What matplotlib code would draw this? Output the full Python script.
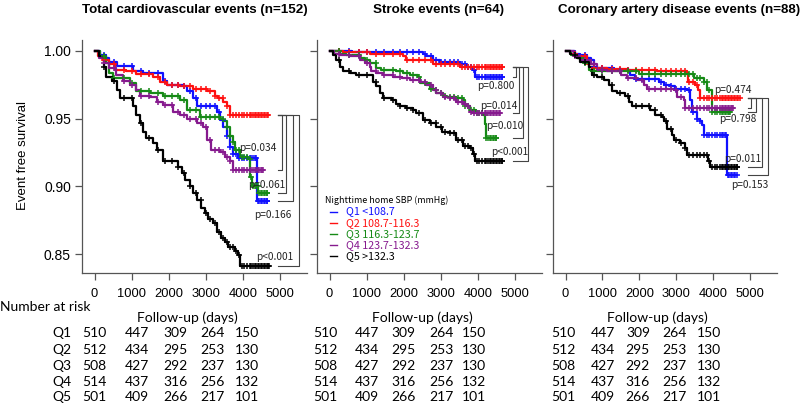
import numpy as np
import matplotlib
matplotlib.use("Agg")
import matplotlib.pyplot as plt
from matplotlib.lines import Line2D
from matplotlib.transforms import blended_transform_factory

# ---------------- data ----------------
GROUPS = ["Q1", "Q2", "Q3", "Q4", "Q5"]
GROUP_RANGES = ["<108.7", "108.7-116.3", "116.3-123.7", "123.7-132.3", ">132.3"]
LEGEND_TITLE = "Nighttime home SBP (mmHg)"
PANEL_TITLES = ["Total cardiovascular events (n=152)",
                "Stroke events (n=64)",
                "Coronary artery disease events (n=88)"]
X_TICKS = [0, 1000, 2000, 3000, 4000, 5000]
Y_TICKS = [0.85, 0.90, 0.95, 1.00]
Y_TICK_LABELS = ["0.85", "0.90", "0.95", "1.00"]

# Panel 1: total cardiovascular events (step times in days, survival after step)
CV_T = {
    "Q1": [0, 150, 300, 400, 600, 1040, 1300, 1850, 1940, 2390, 2480, 2660, 2750, 3290, 3380, 3470, 3560, 3650, 3740, 3880, 4370],
    "Q2": [0, 100, 230, 400, 540, 860, 1130, 1570, 1760, 1940, 2300, 2650, 3020, 3240, 3330, 3470, 3560, 3650],
    "Q3": [0, 150, 320, 400, 500, 950, 1130, 1490, 1850, 2300, 2480, 2840, 3380, 3470, 3560, 3650, 3740, 3790, 3920, 4150, 4190, 4240, 4410],
    "Q4": [0, 130, 250, 400, 590, 770, 950, 1130, 1220, 1490, 1670, 1850, 2120, 2300, 2480, 2750, 2930, 3020, 3150, 3380, 3510, 3650, 3740],
    "Q5": [0, 120, 250, 320, 480, 600, 680, 1030, 1120, 1220, 1300, 1400, 1570, 1670, 1840, 2250, 2350, 2430, 2570, 2650, 2750, 2880, 2970, 3050, 3190, 3290, 3420, 3510, 3600, 3780, 3870, 3920],
}
CV_S = {
    "Q1": [1.0, 0.997, 0.995, 0.992, 0.989, 0.985, 0.984, 0.978, 0.975, 0.974, 0.970, 0.965, 0.959, 0.955, 0.949, 0.944, 0.937, 0.929, 0.924, 0.921, 0.889],
    "Q2": [1.0, 0.996, 0.993, 0.990, 0.986, 0.985, 0.983, 0.981, 0.977, 0.975, 0.974, 0.972, 0.970, 0.967, 0.965, 0.962, 0.959, 0.953],
    "Q3": [1.0, 0.996, 0.991, 0.984, 0.980, 0.976, 0.970, 0.969, 0.967, 0.964, 0.956, 0.951, 0.950, 0.948, 0.944, 0.937, 0.933, 0.927, 0.922, 0.920, 0.907, 0.900, 0.895],
    "Q4": [1.0, 0.995, 0.991, 0.987, 0.982, 0.978, 0.975, 0.971, 0.967, 0.966, 0.962, 0.960, 0.955, 0.953, 0.950, 0.947, 0.944, 0.934, 0.927, 0.925, 0.922, 0.919, 0.912],
    "Q5": [1.0, 0.996, 0.988, 0.981, 0.978, 0.971, 0.965, 0.959, 0.953, 0.947, 0.940, 0.936, 0.932, 0.927, 0.919, 0.914, 0.910, 0.905, 0.900, 0.895, 0.890, 0.884, 0.880, 0.876, 0.873, 0.866, 0.862, 0.859, 0.855, 0.852, 0.849, 0.841],
}
CV_END = {"Q1": 4650, "Q2": 4680, "Q3": 4650, "Q4": 4550, "Q5": 4700}

# Panel 2: stroke events
ST_T = {
    "Q1": [0, 600, 2520, 2610, 2790, 2970, 3510, 3690, 3870, 3920],
    "Q2": [0, 350, 1080, 1980, 2070, 2790, 3510],
    "Q3": [0, 270, 450, 810, 950, 1080, 1260, 1400, 1800, 1980, 2160, 2390, 2430, 2700, 2840, 2880, 3060, 3150, 3420, 3600, 3650, 3780, 3960, 4140, 4190, 4230],
    "Q4": [0, 130, 270, 540, 810, 950, 1080, 1130, 1260, 1440, 1710, 1940, 2160, 2430, 2610, 2790, 2880, 3060, 3240, 3420, 3600, 3690, 3780, 3870],
    "Q5": [0, 100, 180, 270, 360, 540, 720, 1170, 1260, 1350, 1440, 1670, 1800, 1890, 2070, 2250, 2340, 2520, 2700, 2880, 3020, 3240, 3420, 3600, 3780, 3870, 3920],
}
ST_S = {
    "Q1": [1.0, 0.9995, 0.998, 0.996, 0.993, 0.992, 0.990, 0.988, 0.986, 0.981],
    "Q2": [1.0, 0.999, 0.998, 0.996, 0.993, 0.990, 0.988],
    "Q3": [1.0, 0.998, 0.997, 0.995, 0.993, 0.991, 0.987, 0.986, 0.985, 0.9835, 0.982, 0.981, 0.976, 0.972, 0.971, 0.969, 0.967, 0.966, 0.965, 0.964, 0.959, 0.956, 0.954, 0.953, 0.946, 0.936],
    "Q4": [1.0, 0.998, 0.997, 0.996, 0.993, 0.991, 0.988, 0.985, 0.9835, 0.982, 0.981, 0.980, 0.9785, 0.977, 0.975, 0.971, 0.969, 0.966, 0.965, 0.9625, 0.961, 0.959, 0.955, 0.954],
    "Q5": [1.0, 0.997, 0.993, 0.988, 0.985, 0.9835, 0.982, 0.977, 0.974, 0.969, 0.965, 0.964, 0.961, 0.959, 0.958, 0.956, 0.954, 0.949, 0.9465, 0.944, 0.940, 0.939, 0.934, 0.930, 0.928, 0.924, 0.919],
}
ST_END = {"Q1": 4650, "Q2": 4650, "Q3": 4500, "Q4": 4600, "Q5": 4650}

# Panel 3: coronary artery disease events
CA_T = {
    "Q1": [0, 250, 400, 590, 680, 770, 860, 1300, 1760, 1890, 2520, 2660, 2840, 2970, 3290, 3380, 3420, 3560, 3650, 3690, 3740, 4370],
    "Q2": [0, 150, 320, 590, 770, 1130, 1670, 2480, 3290, 3330, 3510, 3600, 3650],
    "Q3": [0, 150, 320, 500, 630, 680, 2000, 3470, 3740, 3830, 3960],
    "Q4": [0, 220, 400, 680, 860, 1130, 1490, 1670, 1940, 2120, 2210, 2930, 3020, 3200, 3240],
    "Q5": [0, 130, 220, 320, 400, 630, 720, 860, 1040, 1170, 1260, 1400, 1620, 1710, 1800, 2300, 2430, 2610, 2660, 2750, 2880, 2930, 3110, 3240, 3290, 3870, 3920],
}
CA_S = {
    "Q1": [1.0, 0.998, 0.997, 0.995, 0.993, 0.988, 0.987, 0.986, 0.982, 0.979, 0.977, 0.975, 0.974, 0.972, 0.971, 0.964, 0.955, 0.950, 0.948, 0.945, 0.938, 0.908],
    "Q2": [1.0, 0.998, 0.996, 0.990, 0.987, 0.9865, 0.9855, 0.985, 0.9835, 0.977, 0.975, 0.971, 0.965],
    "Q3": [1.0, 0.997, 0.995, 0.991, 0.986, 0.985, 0.983, 0.980, 0.977, 0.971, 0.955],
    "Q4": [1.0, 0.996, 0.993, 0.990, 0.986, 0.985, 0.982, 0.980, 0.9785, 0.975, 0.972, 0.971, 0.966, 0.964, 0.958],
    "Q5": [1.0, 0.998, 0.997, 0.995, 0.992, 0.988, 0.982, 0.981, 0.9785, 0.975, 0.970, 0.969, 0.967, 0.9625, 0.959, 0.956, 0.953, 0.951, 0.948, 0.942, 0.938, 0.934, 0.932, 0.928, 0.923, 0.919, 0.914],
}
CA_END = {"Q1": 4640, "Q2": 4720, "Q3": 4450, "Q4": 4550, "Q5": 4650}

# censoring times (days) shown as '+' marks
CENSOR_DAYS = [250, 520, 780, 1000, 1250, 1480, 1700, 1900, 2080, 2250, 2420, 2580,
               2730, 2870, 3000, 3120, 3240, 3350, 3460, 3560, 3650, 3740, 3820, 3900,
               3970, 4040, 4110, 4180, 4230, 4280, 4320, 4360, 4400, 4440, 4480,
               4520, 4560, 4600, 4640, 4680]

# log-rank comparisons vs Q2 (order = inner bracket to outer bracket)
CV_P = [("Q4", "p=0.034"), ("Q3", "p=0.061"), ("Q1", "p=0.166"), ("Q5", "p<0.001")]
ST_P = [("Q1", "p=0.800"), ("Q4", "p=0.014"), ("Q3", "p=0.010"), ("Q5", "p<0.001")]
CA_P = [("Q4", "p=0.474"), ("Q3", "p=0.798"), ("Q5", "p=0.011"), ("Q1", "p=0.153")]

# number at risk
RISK_TIMES = [0, 1000, 2000, 3000, 4000]
AT_RISK = {
    "Q1": [510, 447, 309, 264, 150],
    "Q2": [512, 434, 295, 253, 130],
    "Q3": [508, 427, 292, 237, 130],
    "Q4": [514, 437, 316, 256, 132],
    "Q5": [501, 409, 266, 217, 101],
}

# ---------------- styling / layout ----------------
COLORS = {"Q1": "#1010ff", "Q2": "#ff1010", "Q3": "#168a16", "Q4": "#861a8e", "Q5": "#000000"}
W, H = 800, 404
SANS = ["Liberation Sans", "DejaVu Sans"]
JP = ["Noto Sans CJK JP", "DejaVu Sans"]
TABLE_FONT = ["Lato", "Liberation Sans", "DejaVu Sans"]
SPINE = "#555555"

AX_PX = [(82, 307), (317, 542), (553, 777)]      # left/right in pixels
AX_TOP, AX_BOT = 40, 273
XLIM = (-340, 5730)
YLIM = (0.836, 1.008)
TITLE_X = [195, 439, 679]

BRACKET_START = [4946, 4938, 4955]
BRACKET_X = [[5046, 5154, 5343, 5522], [5028, 5117, 5225, 5344], [5028, 5163, 5317, 5495]]
PLABEL_POS = [[(4919, 0.9281), (5136, 0.9010), (5317, 0.8785), (5352, 0.8480)],
              [(5001, 0.9742), (5082, 0.9594), (5217, 0.9446), (5352, 0.9256)],
              [(5045, 0.9712), (5180, 0.9498), (5317, 0.9199), (5495, 0.9010)]]
RISK_COL_X = [[0, 1135, 2190, 3190, 4110],
              [-108, 1014, 2000, 3027, 3892],
              [-54, 1014, 1960, 2946, 3892]]
RISK_ROW_Y = [333, 350, 366, 382, 397]


def fx(x):
    return x / W


def fy(y):
    return 1 - y / H


fig = plt.figure(figsize=(8, 4.04), dpi=100)

panels = [(CV_T, CV_S, CV_END, CV_P), (ST_T, ST_S, ST_END, ST_P), (CA_T, CA_S, CA_END, CA_P)]

for i, (T, S, END, PV) in enumerate(panels):
    l, r = AX_PX[i]
    ax = fig.add_axes([fx(l), fy(AX_BOT), (r - l) / W, (AX_BOT - AX_TOP) / H])
    ax.set_xlim(*XLIM)
    ax.set_ylim(*YLIM)
    for sp in ["top", "right"]:
        ax.spines[sp].set_visible(False)
    for sp in ["left", "bottom"]:
        ax.spines[sp].set_color(SPINE)
        ax.spines[sp].set_linewidth(0.9)
    ax.set_xticks(X_TICKS)
    ax.set_xticklabels([str(v) for v in X_TICKS], fontsize=9.3, family=SANS)
    ax.set_yticks(Y_TICKS)
    if i == 0:
        ax.set_yticklabels(Y_TICK_LABELS, fontsize=10, family=SANS)
    else:
        ax.set_yticklabels([])
    ax.tick_params(axis="both", direction="out", length=5, width=0.9, color=SPINE, pad=3)
    ax.tick_params(axis="x", pad=6)
    ax.patch.set_visible(False)

    for g in GROUPS:
        t = list(T[g]) + [END[g]]
        s = list(S[g]) + [S[g][-1]]
        ax.step(t, s, where="post", color=COLORS[g], lw=1.6, zorder=3)
        ct = np.array([c for c in CENSOR_DAYS if c < END[g]] + [END[g]])
        idx = np.searchsorted(np.array(T[g]), ct, side="right") - 1
        cs = np.array(S[g])[idx]
        ax.plot(ct, cs, ls="none", marker="+", ms=5, mew=1.1, color=COLORS[g], zorder=4)

    # brackets and p-values
    top = S["Q2"][-1]
    x0 = BRACKET_START[i]
    for k, (g, lab) in enumerate(PV):
        xb = BRACKET_X[i][k]
        bot = S[g][-1]
        ax.plot([x0, xb, xb, x0], [top, top, bot, bot], color="#444444", lw=0.8,
                clip_on=False, zorder=2)
        px_, py_ = PLABEL_POS[i][k]
        ax.text(px_, py_, lab, ha="right", va="center", fontsize=7.3, family=JP,
                color="#222222", clip_on=False, zorder=5)

    fig.text(fx(TITLE_X[i]), fy(10), PANEL_TITLES[i], ha="center", va="center",
             fontsize=9.6, fontweight="bold", family=SANS)

    # number at risk table
    tr = blended_transform_factory(ax.transData, fig.transFigure)
    ax.text(2500, fy(318), "Follow-up (days)", transform=tr, ha="center", va="center",
            fontsize=10, family=TABLE_FONT, clip_on=False)
    for j, g in enumerate(GROUPS):
        for k, v in enumerate(AT_RISK[g]):
            ax.text(RISK_COL_X[i][k], fy(RISK_ROW_Y[j]), str(v), transform=tr,
                    ha="center", va="center", fontsize=10, family=TABLE_FONT, clip_on=False)
        if i == 0:
            ax.text(-878, fy(RISK_ROW_Y[j]), g, transform=tr, ha="center", va="center",
                    fontsize=10, family=TABLE_FONT, clip_on=False)

fig.text(fx(23), fy(155), "Event free survival", rotation=90, ha="center", va="center",
         fontsize=9.5, family=SANS)
fig.text(0, fy(307), "Number at risk", ha="left", va="center", fontsize=10, family=TABLE_FONT)

# legend (inside stroke panel)
fig.text(fx(325), fy(200), LEGEND_TITLE, ha="left", va="center", fontsize=6.4, family=JP)
for j, g in enumerate(GROUPS):
    yy = fy(211.5 + 11.1 * j)
    fig.add_artist(Line2D([fx(330), fx(337)], [yy, yy], color=COLORS[g], lw=1.0))
    fig.text(fx(346), yy, f"{g} {GROUP_RANGES[j]}", ha="left", va="center",
             fontsize=7.7, family=JP, color=COLORS[g])

fig.savefig("out.png", dpi=100)
